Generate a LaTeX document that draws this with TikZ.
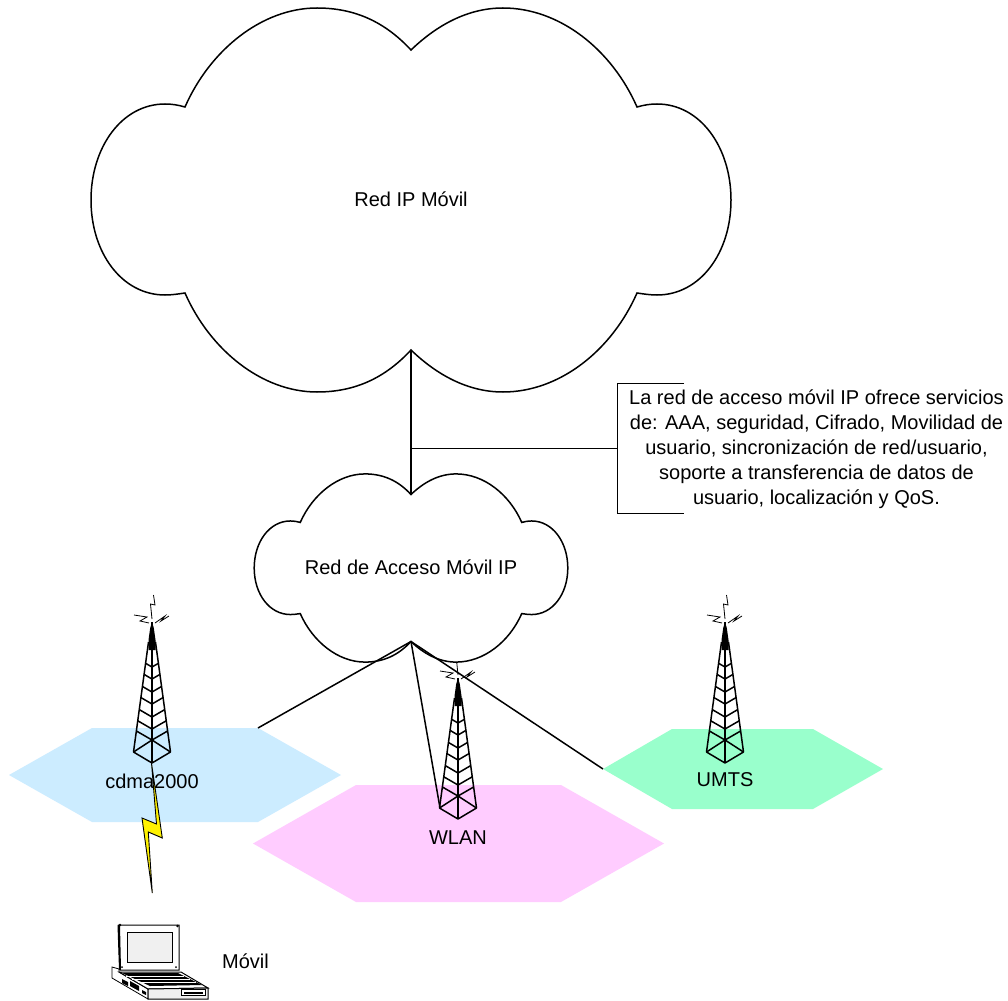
\documentclass[tikz,border=0pt]{standalone}
\usepackage{fontspec}
\setmainfont{Liberation Sans}
\newcommand\cloudshape[3]{%
\begin{scope}[shift={(#1)},scale=#2]
\draw[cloudline] (-226,-93) .. controls (-201,-150) and (-149,-192) .. (-94,-192)
 .. controls (-56,-192) and (-26,-178) .. (0,-150)
 .. controls (26,-175) and (57,-192) .. (92,-192)
 .. controls (149,-192) and (201,-150) .. (226,-93)
 .. controls (233,-95) and (239,-96) .. (246,-96)
 .. controls (289,-96) and (320,-53) .. (320,0)
 .. controls (320,53) and (289,95) .. (246,95)
 .. controls (239,95) and (233,94) .. (226,93)
 .. controls (201,150) and (149,192) .. (92,192)
 .. controls (57,192) and (26,175) .. (0,150)
 .. controls (-26,178) and (-56,192) .. (-94,192)
 .. controls (-149,192) and (-201,150) .. (-226,93)
 .. controls (-233,94) and (-239,95) .. (-246,95)
 .. controls (-289,95) and (-320,53) .. (-320,0)
 .. controls (-320,-53) and (-289,-96) .. (-246,-96)
 .. controls (-239,-96) and (-233,-95) .. (-226,-93) -- cycle;
\coordinate (#3N) at (0,-150);
\coordinate (#3S) at (0,150);
\end{scope}}
\newcommand\towershape[2]{%
\begin{scope}[shift={(#1,#2)}]
\draw[bolt] (1.5,-27) -- (3,-17) -- (-1.5,-18) -- (0,-3);
\draw[bolt] (-18,-7) -- (-5,-5) -- (-12,-1) -- (-3,1);
\draw[bolt] (17,-6) -- (9,-1) -- (13,-6) -- (3,1);
\fill (0,0) -- (1.8,6) -- (3.5,18) -- (3.5,28) -- (-3.5,28) -- (-3.5,18) -- (-1.8,6) -- cycle;
\draw[towerline] (-3.5,20) -- (-18.5,130) -- (0,141) -- (18.5,130) -- (3.5,20);
\draw[towerline] (0,0) -- (0,141);
\foreach \xa/\ya/\yb in {6.4/41.3/45, 7.9/52.4/57, 9.5/64.5/70, 11/75.6/82, 12.7/87.6/95, 14.2/98.8/107, 15.6/109/118}
  \draw[towerline] (-\xa,\ya) -- (0,\yb) -- (\xa,\ya);
\draw[towerline] (-18.5,130) -- (0,118) -- (18.5,130);
\end{scope}}
\tikzset{
  x=1pt,y=-1pt,
  cloudline/.style={draw=black,fill=white,line width=1.5pt,line join=miter},
  towerline/.style={draw=black,line width=1.5pt,line join=round},
  bolt/.style={draw=black,line width=0.8pt},
  link/.style={draw=black,line width=1.5pt},
  thinlink/.style={draw=black,line width=1pt},
  label/.style={font=\fontsize{20}{25}\selectfont,text=black,inner sep=0pt},
}
\definecolor{hexblue}{HTML}{CCECFF}
\definecolor{hexpink}{HTML}{FFCCFF}
\definecolor{hexgreen}{HTML}{99FFCC}
\definecolor{lapgrey}{HTML}{F0F0F0}
\begin{document}
\begin{tikzpicture}
\useasboundingbox (0,0) rectangle (1008,1000);
\fill[white] (0,0) rectangle (1008,1000);
% hexagons
\fill[hexblue] (9,775) -- (92,728) -- (258,728) coordinate (cdmaCorner) -- (341,775) -- (258,822) -- (92,822) -- cycle;
\fill[hexpink] (253,843.5) -- (356,785) -- (561,785) -- (664,843.5) -- (561,902) -- (356,902) -- cycle;
\fill[hexgreen] (603,769) coordinate (umtsCorner) -- (672,729) -- (813,729) -- (883,769) -- (813,809) -- (672,809) -- cycle;
% towers
\towershape{152}{622}
\towershape{458}{678}
\towershape{725}{622}
\coordinate (wlanFoot) at (440,808);
% clouds
\cloudshape{411,200}{1}{big}
\cloudshape{411,568}{0.49}{small}
% connectors
\draw[link] (bigS) -- (smallN);
\draw[link] (smallS) -- (cdmaCorner);
\draw[link] (smallS) -- (wlanFoot);
\draw[link] (smallS) -- (umtsCorner);
% lightning
\coordinate (boltTop) at (151.5,763);
\coordinate (boltEnd) at (152.3,893);
\draw[fill=yellow,line width=0.9pt,line join=miter] (boltTop) -- (156.5,824) -- (142,818) -- (boltEnd) -- (148.3,832) -- (162.3,838) -- cycle;
% callout
\coordinate (calloutTop) at (684,383);
\coordinate (calloutBot) at (684,513);
\coordinate (calloutMid) at (617,448.5);
\coordinate (mastTap) at (411,448.5);
\draw[thinlink] (calloutTop) -- (617,383) -- (617,513) -- (calloutBot);
\draw[thinlink] (mastTap) -- (calloutMid);
% laptop
\begin{scope}
\draw[fill=white,line width=0.8pt] (112,967) -- (119,969) -- (119,972) -- (148,989) -- (148,999) -- (112,978) -- cycle;
\draw[fill=white,line width=1pt] (119,972) -- (181,972) -- (208,988) -- (148,989) -- cycle;
\fill[black] (122,973) -- (178,973) -- (202,985) -- (150,986) -- cycle;
\draw[white,line width=0.35pt] (126,976) -- (184,976) (132,979) -- (190,979) (138,982) -- (196,982);
\draw[fill=lapgrey,line width=1pt] (148,989) -- (208,988) -- (208,999) -- (148,999) -- cycle;
\draw[fill=white,line width=0.8pt] (181,989.5) rectangle (205,995.5);
\fill[black] (184,992) rectangle (203,993.5);
\fill[black] (122,979) -- (128,982) -- (128,986) -- (122,983) -- cycle;
\fill[black] (130,981) -- (139,986) -- (139,991) -- (130,986) -- cycle;
\fill[black] (142,990) -- (146,992) -- (146,995) -- (142,993) -- cycle;
\draw[fill=white,line width=1pt] (118.5,925) -- (179,925) -- (179,970) -- (120,970) -- cycle;
\fill[black] (117.5,925) -- (120,925) -- (121,970) -- (119,970) -- cycle;
\draw[fill=lapgrey,line width=0.9pt] (127,932) rectangle (172,962);
\fill[black] (120,925) circle (1.4) (177.5,926) circle (1.4) (176,967) circle (1) (122,967) circle (1);
\end{scope}
% labels
\node[label] (redIP) at (411,199) {Red IP Móvil};
\node[label] (redAcc) at (411,567) {Red de Acceso Móvil IP};
\node[label] (cdma) at (152,781) {cdma2000};
\node[label] (wlan) at (458,838) {WLAN};
\node[label] (umts) at (725,780) {UMTS};
\node[label,anchor=west] (movil) at (222,961) {Móvil};
\node[label,align=center] (callout) at (816.5,449) {La red de acceso móvil IP ofrece servicios\\de: AAA, seguridad, Cifrado, Movilidad de\\usuario, sincronización de red/usuario,\\soporte a transferencia de datos de\\usuario, localización y QoS.};
\end{tikzpicture}
\end{document}
